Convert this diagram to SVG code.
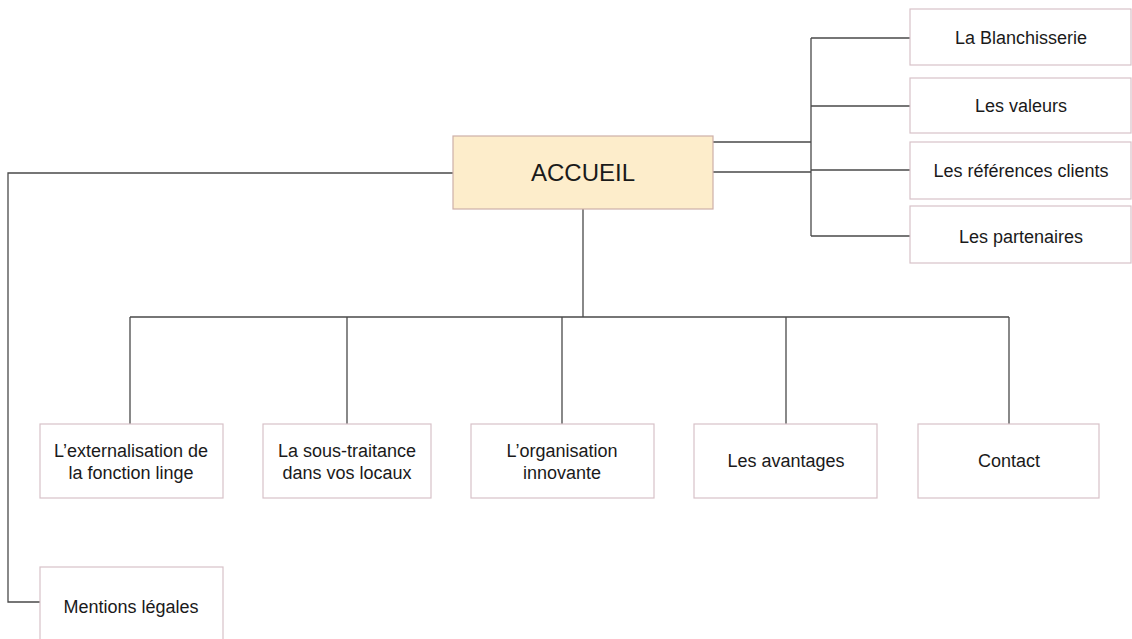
<svg xmlns="http://www.w3.org/2000/svg" width="1132" height="639" viewBox="0 0 1132 639">
<style>
.box{fill:#ffffff;stroke:#d8c2c8;stroke-width:1.2}
.main{fill:#fdedcb;stroke:#cdb0a8;stroke-width:1.2}
.t{font-family:"Liberation Sans",Arial,sans-serif;font-size:18px;fill:#1a1a1a;text-anchor:middle}
.tm{font-family:"Liberation Sans",Arial,sans-serif;font-size:24px;fill:#1a1a1a;text-anchor:middle}
.c{fill:none;stroke:#4a4a4a;stroke-width:1.3}
</style>
<rect width="1132" height="639" fill="#ffffff"/>
<g id="connectors">
<path class="c" d="M713 142H811M713 172H811M811 38V236M811 38H910M811 106H910M811 170H910M811 236H910"/>
<path class="c" d="M453 173H8V602H40"/>
<path class="c" d="M583 209V317M130 317H1009M130 317V424M347 317V424M562 317V424M786 317V424M1009 317V424"/>
</g>
<g id="accueil"><rect class="main" x="453" y="136" width="260" height="73"/><text class="tm" x="583" y="181">ACCUEIL</text></g>
<g id="blanchisserie"><rect class="box" x="910" y="9" width="221" height="56"/><text class="t" x="1021" y="44">La Blanchisserie</text></g>
<g id="valeurs"><rect class="box" x="910" y="78" width="221" height="55"/><text class="t" x="1021" y="112">Les valeurs</text></g>
<g id="references"><rect class="box" x="910" y="142" width="221" height="57"/><text class="t" x="1021" y="177">Les références clients</text></g>
<g id="partenaires"><rect class="box" x="910" y="206" width="221" height="57"/><text class="t" x="1021" y="243">Les partenaires</text></g>
<g id="externalisation"><rect class="box" x="40" y="424" width="183" height="74"/><text class="t" x="131" y="457">L’externalisation de</text><text class="t" x="131" y="479">la fonction linge</text></g>
<g id="sous-traitance"><rect class="box" x="263" y="424" width="168" height="74"/><text class="t" x="347" y="457">La sous-traitance</text><text class="t" x="347" y="479">dans vos locaux</text></g>
<g id="organisation"><rect class="box" x="471" y="424" width="183" height="74"/><text class="t" x="562" y="457">L’organisation</text><text class="t" x="562" y="479">innovante</text></g>
<g id="avantages"><rect class="box" x="694" y="424" width="183" height="74"/><text class="t" x="786" y="467">Les avantages</text></g>
<g id="contact"><rect class="box" x="918" y="424" width="181" height="74"/><text class="t" x="1009" y="467">Contact</text></g>
<g id="mentions"><rect class="box" x="40" y="567" width="183" height="80"/><text class="t" x="131" y="613">Mentions légales</text></g>
</svg>
